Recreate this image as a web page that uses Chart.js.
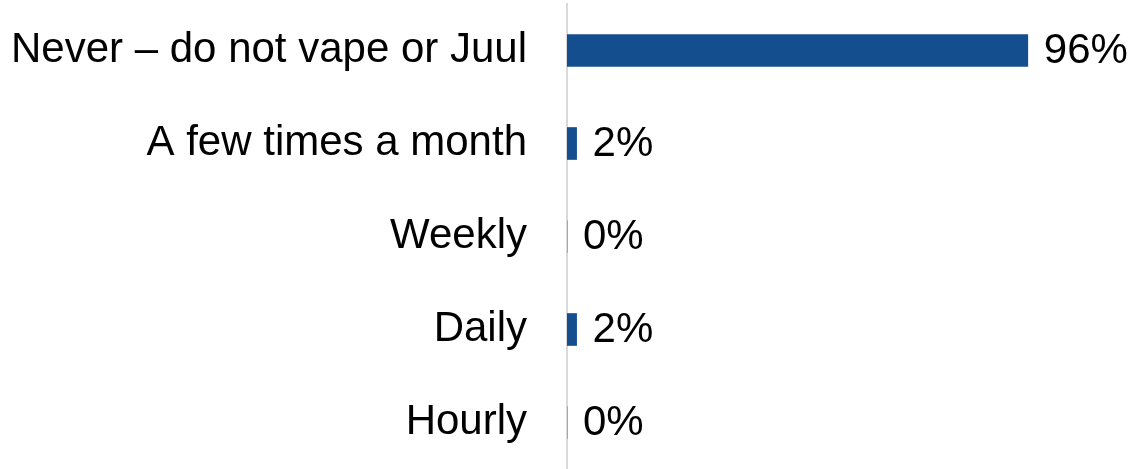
<!DOCTYPE html>
<html>
<head>
<meta charset="utf-8">
<script src="https://cdn.jsdelivr.net/npm/chart.js@4/dist/chart.umd.min.js"></script>
<style>
html,body{margin:0;padding:0;background:#fff;}
#wrap{width:1134px;height:469px;position:relative;}
</style>
</head>
<body>
<div id="wrap"><canvas id="c" width="1134" height="469"></canvas></div>
<script>
const categories = ["Never \u2013 do not vape or Juul", "A few times a month", "Weekly", "Daily", "Hourly"];
const values = [96, 2, 0, 2, 0];
const valueLabels = ["96%", "2%", "0%", "2%", "0%"];

const FONT = "'Liberation Sans', Arial, sans-serif";
const FSIZE = 42;

const labelPlugin = {
  id: 'valueLabels',
  afterDatasetsDraw(chart) {
    const ctx = chart.ctx;
    const meta = chart.getDatasetMeta(0);
    ctx.save();
    ctx.font = FSIZE + "px " + FONT;
    ctx.fillStyle = "#000";
    ctx.textAlign = "left";
    ctx.textBaseline = "middle";
    meta.data.forEach((bar, i) => {
      ctx.fillText(valueLabels[i], bar.x + 16, bar.y + 1);
    });
    ctx.restore();
  }
};

new Chart(document.getElementById('c'), {
  type: 'bar',
  data: {
    labels: categories,
    datasets: [{
      data: values,
      backgroundColor: '#144E8E',
      borderWidth: 0,
      barThickness: 32
    }]
  },
  options: {
    indexAxis: 'y',
    responsive: false,
    animation: false,
    devicePixelRatio: 1,
    layout: { padding: { left: 0, right: 87, top: 4, bottom: -3 } },
    plugins: { legend: { display: false }, tooltip: { enabled: false } },
    scales: {
      x: {
        display: false,
        min: 0,
        max: 100
      },
      y: {
        grid: { display: false, drawTicks: false },
        border: { display: true, color: '#d9d9d9', width: 2 },
        ticks: {
          color: '#000',
          padding: 40,
          font: { family: FONT, size: FSIZE }
        },
        afterFit(scale) {
          scale.width = 567;
          scale.paddingTop = 0;
          scale.paddingBottom = 0;
        }
      }
    }
  },
  plugins: [labelPlugin]
});
</script>
</body>
</html>
